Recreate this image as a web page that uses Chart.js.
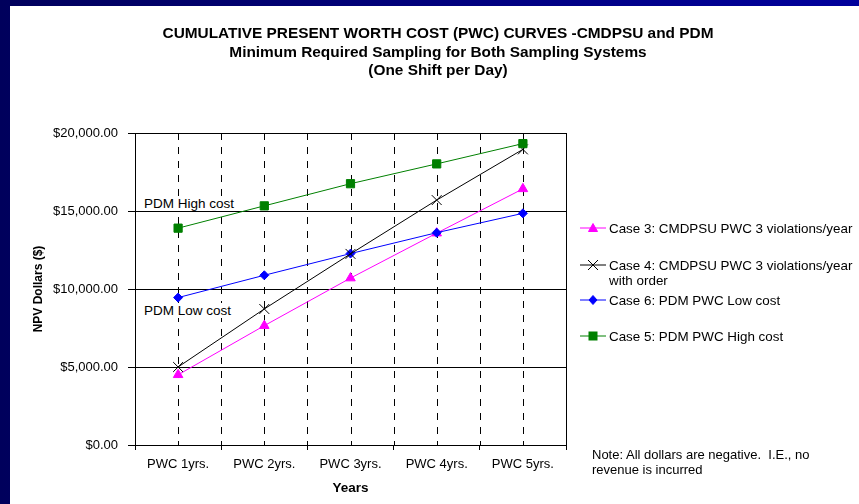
<!DOCTYPE html>
<html><head><meta charset="utf-8">
<script src="https://cdn.jsdelivr.net/npm/chart.js@4.4.1/dist/chart.umd.min.js"></script>
<style>
html,body{margin:0;padding:0;}
body{width:859px;height:504px;position:relative;overflow:hidden;background:linear-gradient(to right,#00005c,#00009c);font-family:Arial,"Liberation Sans",sans-serif;color:#000;}
#panel{position:absolute;left:10px;top:6px;width:849px;height:498px;background:#fff;}
#c{position:absolute;left:0;top:0;}
.ov{position:absolute;white-space:pre;font-size:13px;line-height:15px;}
#title{position:absolute;left:0;top:24px;width:876px;text-align:center;font-weight:bold;font-size:15.4px;line-height:18.5px;}
.ann{background:#fff;padding:0 3px 0 1px;font-size:13.5px;}
.leg{position:absolute;left:580px;font-size:13.4px;line-height:15px;}
.leg svg{position:absolute;left:0;top:1px;}
.leg span{position:absolute;left:29px;top:0;white-space:pre;}
</style>
</head><body>
<div id="panel"><canvas id="c" width="849" height="498"></canvas></div>
<div id="title">CUMULATIVE PRESENT WORTH COST (PWC) CURVES -CMDPSU and PDM<br>Minimum Required Sampling for Both Sampling Systems<br>(One Shift per Day)</div>
<div class="ov ann" style="left:143px;top:196px;">PDM High cost</div>
<div class="ov ann" style="left:143px;top:303px;">PDM Low cost</div>
<div id="legend"></div>
<div class="ov" style="left:592px;top:447px;">Note: All dollars are negative.  I.E., no
revenue is incurred</div>
<script>
const categories = ['PWC 1yrs.', 'PWC 2yrs.', 'PWC 3yrs.', 'PWC 4yrs.', 'PWC 5yrs.'];
const case3 = [4500, 7650, 10700, 13580, 16420];
const case4 = [5000, 8720, 12250, 15700, 18950];
const case6 = [9450, 10880, 12270, 13610, 14850];
const case5 = [13900, 15330, 16750, 18020, 19320];
const yTicks = [0, 5000, 10000, 15000, 20000];
const seriesNames = [
  'Case 3: CMDPSU PWC 3 violations/year',
  'Case 4: CMDPSU PWC 3 violations/year\nwith order',
  'Case 6: PDM PWC Low cost',
  'Case 5: PDM PWC High cost'
];

const FONT = 'Arial, "Liberation Sans", sans-serif';

function money(v) {
  const s = Math.round(v).toString().replace(/\B(?=(\d{3})+(?!\d))/g, ',');
  return '$' + s + '.00';
}

const vGrid = {
  id: 'vGrid',
  beforeDatasetsDraw(chart) {
    const {ctx, chartArea: a, scales: {x}} = chart;
    ctx.save();
    ctx.strokeStyle = '#000';
    ctx.lineWidth = 1;
    ctx.setLineDash([7, 7]);
    const xs = [];
    for (let i = 0; i < categories.length; i++) {
      xs.push(x.getPixelForValue(i));
      if (i < categories.length - 1) xs.push((x.getPixelForValue(i) + x.getPixelForValue(i + 1)) / 2);
    }
    xs.forEach(px => {
      const p = Math.round(px) + 0.5;
      ctx.beginPath(); ctx.moveTo(p, a.top); ctx.lineTo(p, a.bottom); ctx.stroke();
    });
    ctx.setLineDash([]);
    const r = Math.round(a.right) + 0.5;
    ctx.beginPath(); ctx.moveTo(r, a.top); ctx.lineTo(r, a.bottom); ctx.stroke();
    ctx.restore();
  }
};

const styles = [
  {color: '#FF00FF', point: 'triangle', radius: 5.5, order: 3},
  {color: '#000000', point: 'crossRot', radius: 7, order: 1},
  {color: '#0000FF', point: 'rectRot', radius: 4.5, order: 2},
  {color: '#008000', point: 'rect', radius: 5.8, order: 0}
];
const seriesData = [case3, case4, case6, case5];

const datasets = seriesData.map((d, i) => ({
  label: seriesNames[i],
  data: d,
  borderColor: styles[i].color,
  backgroundColor: styles[i].color,
  pointBackgroundColor: styles[i].color,
  pointBorderColor: styles[i].color,
  pointStyle: styles[i].point,
  pointRadius: styles[i].radius,
  pointBorderWidth: 1,
  borderWidth: 1,
  tension: 0,
  fill: false,
  order: styles[i].order
}));

new Chart(document.getElementById('c'), {
  type: 'line',
  data: {labels: categories, datasets},
  options: {
    responsive: false,
    animation: false,
    devicePixelRatio: 1,
    layout: {padding: {left: 0, right: 293, top: 127, bottom: 0}},
    plugins: {legend: {display: false}, title: {display: false}, tooltip: {enabled: false}},
    scales: {
      x: {
        offset: true,
        grid: {offset: true, drawOnChartArea: false, color: '#000', tickColor: '#000', tickLength: 5},
        border: {display: true, color: '#000', width: 1},
        ticks: {color: '#000', font: {size: 13, family: FONT}, padding: 7, maxRotation: 0, autoSkip: false},
        title: {display: true, text: 'Years', color: '#000', font: {size: 13.5, weight: 'bold', family: FONT}, padding: {top: 0, bottom: 8}},
        afterFit: s => { s.height = 59; }
      },
      y: {
        min: 0, max: 20000,
        afterBuildTicks: s => { s.ticks = yTicks.map(v => ({value: v})); },
        grid: {color: '#000', lineWidth: 1, tickColor: '#000', tickLength: 7},
        border: {display: true, color: '#000', width: 1},
        ticks: {color: '#000', font: {size: 13, family: FONT}, padding: 10, callback: v => money(v)},
        title: {display: true, text: 'NPV Dollars ($)', color: '#000', font: {size: 12, weight: 'bold', family: FONT}, padding: {top: 21, bottom: 0}},
        afterFit: s => { s.width = 125; }
      }
    }
  },
  plugins: [vGrid]
});

// HTML legend
const legendTops = [221, 258, 293, 329];
const legend = document.getElementById('legend');
function markerSvg(st) {
  const c = st.color;
  let m = '';
  if (st.point === 'triangle') m = `<polygon points="13,1.5 17.5,9.5 8.5,9.5" fill="${c}" stroke="${c}"/>`;
  else if (st.point === 'crossRot') m = `<path d="M8,1 L18,11 M18,1 L8,11" stroke="${c}" stroke-width="1"/>`;
  else if (st.point === 'rectRot') m = `<polygon points="13,1.5 17,6 13,10.5 9,6" fill="${c}" stroke="${c}"/>`;
  else m = `<rect x="9" y="2" width="8" height="8" fill="${c}" stroke="${c}"/>`;
  return `<svg width="27" height="12" viewBox="0 0 27 12"><line x1="0" y1="6" x2="26" y2="6" stroke="${c}" stroke-width="1"/>${m}</svg>`;
}
seriesNames.forEach((name, i) => {
  const d = document.createElement('div');
  d.className = 'leg';
  d.style.top = legendTops[i] + 'px';
  d.innerHTML = markerSvg(styles[i]) + '<span></span>';
  d.querySelector('span').textContent = name;
  legend.appendChild(d);
});
</script>
</body></html>
